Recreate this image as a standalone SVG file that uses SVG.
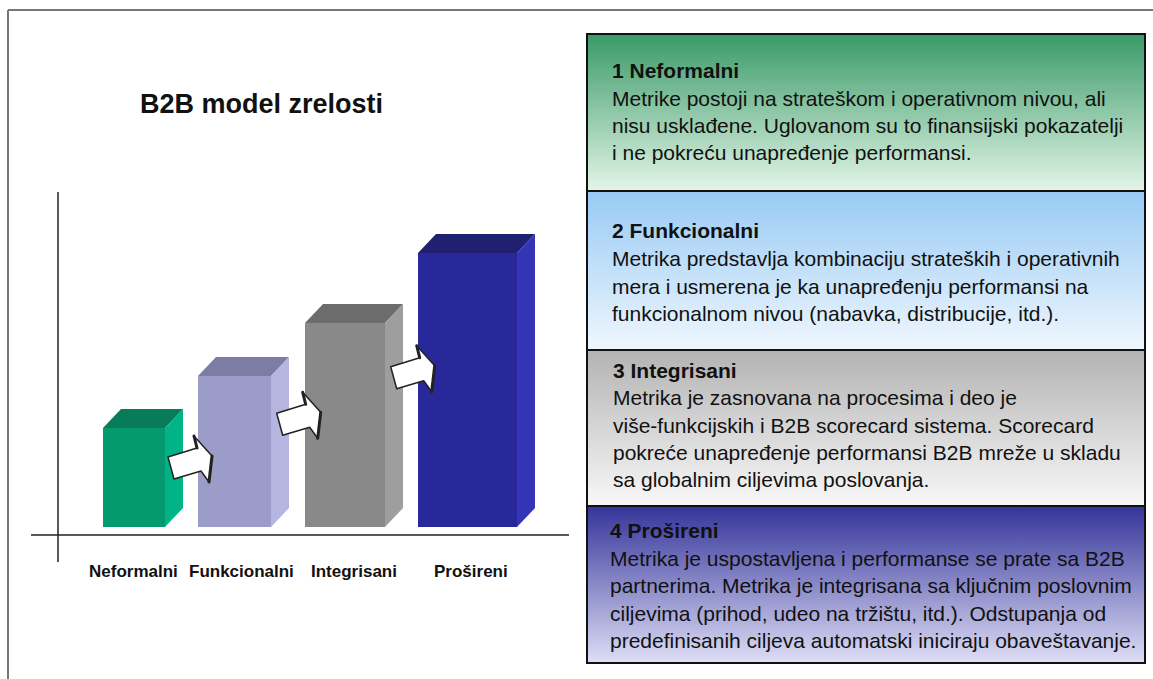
<svg xmlns="http://www.w3.org/2000/svg" width="1153" height="679" viewBox="0 0 1153 679">
<defs>
<style>
.t{font-family:"Liberation Sans",Arial,sans-serif;fill:#111}
.b{font-weight:bold}
.body{font-size:21px}
.lbl{font-size:17px;font-weight:bold}
.panel{stroke:#111;stroke-width:2}
.arrow{fill:#fff;stroke:#222;stroke-width:1.5;stroke-linejoin:round}
.edge{stroke:#222;stroke-width:3;fill:none;stroke-linecap:round}
.axis{stroke:#222;stroke-width:1.5}
</style>
<linearGradient id="g1" x1="0" y1="0" x2="0" y2="1"><stop offset="0" stop-color="#3a9a68"/><stop offset="1" stop-color="#e3f5e7"/></linearGradient>
<linearGradient id="g2" x1="0" y1="0" x2="0" y2="1"><stop offset="0" stop-color="#98caf4"/><stop offset="1" stop-color="#eff7fe"/></linearGradient>
<linearGradient id="g3" x1="0" y1="0" x2="0" y2="1"><stop offset="0" stop-color="#b3b3b3"/><stop offset="1" stop-color="#f8f8f8"/></linearGradient>
<linearGradient id="g4" x1="0" y1="0" x2="0" y2="1"><stop offset="0" stop-color="#34349a"/><stop offset="1" stop-color="#dedef6"/></linearGradient>
<g id="arr">
<polygon class="arrow" points="168,457 197,448 194,436 212,456 209,482 201,471 174,479"/>
<line class="edge" x1="194" y1="436" x2="197" y2="448"/>
<line class="edge" x1="212" y1="456" x2="209" y2="482"/>
</g>
</defs>
<rect width="1153" height="679" fill="#fff"/>
<g id="frame">
<line x1="8" y1="10" x2="1153" y2="10" stroke="#777" stroke-width="2"/>
<line x1="8" y1="10" x2="8" y2="679" stroke="#777" stroke-width="2"/>
</g>
<text id="title" class="t b" x="140" y="113" font-size="27">B2B model zrelosti</text>
<g id="axes">
<line class="axis" x1="58" y1="192" x2="58" y2="562"/>
<line class="axis" x1="31" y1="535" x2="569" y2="535"/>
</g>
<g id="bar-neformalni">
<polygon points="103,428 121,409 183,409 165,428" fill="#087b58"/>
<polygon points="165,428 183,409 183,508 165,527" fill="#00b487"/>
<rect x="103" y="428" width="62" height="99" fill="#05996f"/>
</g>
<g id="bar-funkcionalni">
<polygon points="198,376 216,357 289,357 271,376" fill="#7c7ca4"/>
<polygon points="271,376 289,357 289,508 271,527" fill="#b5b5e0"/>
<rect x="198" y="376" width="73" height="151" fill="#9c9cc8"/>
</g>
<g id="bar-integrisani">
<polygon points="305,323 323,304 403,304 385,323" fill="#6c6c6c"/>
<polygon points="385,323 403,304 403,508 385,527" fill="#9e9e9e"/>
<rect x="305" y="323" width="80" height="204" fill="#898989"/>
</g>
<g id="bar-prosireni">
<polygon points="418,253 436,234 535,234 517,253" fill="#202072"/>
<polygon points="517,253 535,234 535,508 517,527" fill="#3434b6"/>
<rect x="418" y="253" width="99" height="274" fill="#28289a"/>
</g>
<g id="connectors">
<use href="#arr"/>
<use href="#arr" transform="translate(108.7,-43.7)"/>
<use href="#arr" transform="translate(222.7,-90.3)"/>
</g>
<g id="labels">
<text class="t lbl" x="89" y="577">Neformalni</text>
<text class="t lbl" x="189" y="577">Funkcionalni</text>
<text class="t lbl" x="311" y="577">Integrisani</text>
<text class="t lbl" x="434" y="577">Prošireni</text>
</g>
<g id="panel-1">
<rect class="panel" x="587" y="34" width="558" height="157" fill="url(#g1)"/>
<text class="t body" x="612"><tspan class="b" x="612" y="78">1 Neformalni</tspan><tspan x="612" y="106">Metrike postoji na strateškom i operativnom nivou, ali</tspan><tspan x="612" y="133">nisu usklađene. Uglovanom su to finansijski pokazatelji</tspan><tspan x="612" y="160">i ne pokreću unapređenje performansi.</tspan></text>
</g>
<g id="panel-2">
<rect class="panel" x="587" y="191" width="558" height="159" fill="url(#g2)"/>
<text class="t body" x="612"><tspan class="b" x="612" y="238">2 Funkcionalni</tspan><tspan x="612" y="266">Metrika predstavlja kombinaciju strateških i operativnih</tspan><tspan x="612" y="294">mera i usmerena je ka unapređenju performansi na</tspan><tspan x="612" y="321">funkcionalnom nivou (nabavka, distribucije, itd.).</tspan></text>
</g>
<g id="panel-3">
<rect class="panel" x="587" y="350" width="558" height="156" fill="url(#g3)"/>
<text class="t body" x="613"><tspan class="b" x="613" y="378">3 Integrisani</tspan><tspan x="613" y="405">Metrika je zasnovana na procesima i deo je</tspan><tspan x="613" y="433">više-funkcijskih i B2B scorecard sistema. Scorecard</tspan><tspan x="613" y="460">pokreće unapređenje performansi B2B mreže u skladu</tspan><tspan x="613" y="487">sa globalnim ciljevima poslovanja.</tspan></text>
</g>
<g id="panel-4">
<rect class="panel" x="587" y="506" width="558" height="157" fill="url(#g4)"/>
<text class="t body" x="610"><tspan class="b" x="610" y="538">4 Prošireni</tspan><tspan x="610" y="566">Metrika je uspostavljena i performanse se prate sa B2B</tspan><tspan x="610" y="593">partnerima. Metrika je integrisana sa ključnim poslovnim</tspan><tspan x="610" y="621">ciljevima (prihod, udeo na tržištu, itd.). Odstupanja od</tspan><tspan x="610" y="648">predefinisanih ciljeva automatski iniciraju obaveštavanje.</tspan></text>
</g>
</svg>
